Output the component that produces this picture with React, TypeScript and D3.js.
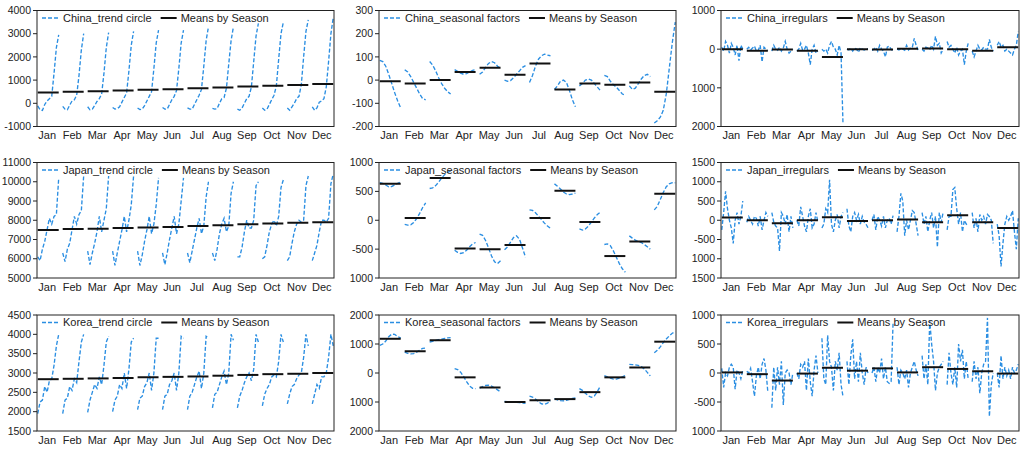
import React from "react";
import * as d3 from "d3";

const MONTHS = ["Jan", "Feb", "Mar", "Apr", "May", "Jun", "Jul", "Aug", "Sep", "Oct", "Nov", "Dec"];

// ---------- China ----------
const chinaTrend = [
  [-110, -280, -310, -50, 100, 200, 300, 1300, 2400, 2950],
  [-130, -250, -280, -80, 100, 150, 350, 1200, 2300, 3000],
  [-150, -280, -250, -100, 80, 200, 400, 1300, 2400, 3050],
  [-180, -250, -230, -150, 50, 250, 450, 1400, 2500, 3100],
  [-200, -270, -250, -100, 100, 300, 500, 1500, 2600, 3150],
  [-180, -250, -250, -50, 150, 300, 550, 1500, 2600, 3150],
  [-200, -250, -250, -50, 150, 350, 600, 1600, 2700, 3300],
  [-220, -250, -230, 0, 200, 250, 650, 1700, 2700, 3300],
  [-250, -300, -200, 0, 200, 300, 700, 1800, 2900, 3450],
  [-200, -300, -250, -50, 150, 350, 750, 1900, 3000, 3500],
  [-200, -300, -150, 0, 200, 300, 800, 2000, 3100, 3600],
  [-150, -300, -200, 50, 100, 200, 700, 1800, 3000, 3700],
];
const chinaTrendMeans = [470, 500, 520, 550, 580, 610, 650, 680, 720, 760, 790, 830];

const chinaSeasonal = [
  [85, 80, 60, 25, -15, -55, -90, -120],
  [45, 35, 15, -10, -35, -60, -80, -85],
  [80, 65, 40, 10, -15, -35, -50, -60],
  [45, 38, 30, 25, 28, 35, 42, 45],
  [25, 35, 55, 72, 80, 75, 60, 50],
  [0, -5, -2, 10, 25, 40, 55, 62],
  [-10, 20, 60, 90, 105, 112, 108, 105],
  [-40, -25, -5, 0, -10, -45, -85, -115],
  [-25, -15, 0, 5, 0, -15, -30, -45],
  [20, 15, -5, -20, -30, -45, -60, -65],
  [-25, -40, -35, -15, 5, 20, 25, 15],
  [-185, -175, -160, -130, -60, 50, 160, 250],
];
const chinaSeasonalMeans = [-5, -15, 0, 35, 53, 23, 72, -40, -15, -20, -10, -50];

const chinaIrregular = [
  [50, -50, 200, 100, -100, 150, 50, -150, 100, -300, 100, 0],
  [0, 50, -20, 30, 80, -50, -30, 100, -330, 50, 0, -40],
  [-50, 100, 0, -30, 50, -50, 30, 200, 0, -100, -50, 0],
  [-50, 0, 150, -30, 0, 100, -100, -400, 0, 100, -100, -50],
  [0, -50, 0, -100, 100, 200, 50, 0, -150, 100, -100, -1900],
  [0, -20, 30, -50, 20, 0, -80, 40, 0, -20, 0, 10],
  [-30, 0, 50, -50, 100, 0, -50, -200, 50, 80, 0, -50],
  [0, -20, 20, 0, -30, 100, -20, 30, 50, 280, 100, -20],
  [0, -50, 50, 30, -20, 100, 0, 330, 100, 150, -100, 0],
  [200, 50, 100, 0, -100, 50, -150, -50, 0, -400, -50, 150],
  [-50, -200, -50, 100, 0, -20, 50, 0, 0, 250, 50, -50],
  [100, 200, 50, 100, -50, 0, -50, -100, -150, 0, 100, 450],
];
const chinaIrregularMeans = [0, -40, -10, -40, -200, 0, -10, 10, 15, 0, -40, 50];

// ---------- Japan ----------
const japanTrend = [
  [6100, 5900, 6500, 6900, 7500, 8100, 7800, 8200, 8300, 10200],
  [6300, 5850, 6500, 6800, 7500, 8200, 7800, 8300, 8500, 10300],
  [6400, 5700, 6300, 6800, 7400, 8200, 7400, 8000, 8600, 10300],
  [6400, 5650, 6300, 6900, 7500, 8200, 7400, 8000, 8800, 10300],
  [6400, 5650, 6200, 6900, 7500, 8200, 7300, 7800, 8800, 10200],
  [6300, 5700, 6300, 7000, 7600, 8200, 7300, 7800, 9000, 10200],
  [6300, 5800, 6400, 7000, 7600, 8100, 7300, 7700, 9200, 10000],
  [6300, 5900, 6500, 7300, 7800, 8100, 7400, 7700, 9400, 10000],
  [6100, 6100, 6600, 7400, 8000, 7600, 7600, 8000, 9800, 10000],
  [6000, 6100, 6700, 7400, 7800, 8000, 7700, 8200, 9700, 10100],
  [5900, 6100, 6800, 7400, 7800, 8000, 7900, 8000, 9800, 10300],
  [5900, 6300, 6700, 7400, 8000, 8000, 7900, 8100, 9900, 10400],
];
const japanTrendMeans = [7500, 7550, 7560, 7600, 7620, 7650, 7700, 7740, 7790, 7830, 7870, 7900];

const japanSeasonal = [
  [650, 640, 610, 580, 585, 610, 640, 660],
  [-70, -85, -80, -40, 30, 120, 220, 300],
  [550, 560, 600, 660, 730, 790, 830, 850],
  [-520, -555, -575, -560, -520, -460, -410, -385],
  [-240, -260, -350, -480, -620, -720, -750, -700],
  [-510, -460, -380, -300, -270, -330, -480, -640],
  [180, 170, 130, 70, 10, -50, -100, -140],
  [630, 590, 540, 490, 455, 445, 455, 470],
  [-150, -170, -150, -100, -30, 40, 100, 140],
  [-420, -410, -440, -530, -640, -750, -840, -900],
  [-270, -310, -345, -370, -385, -420, -460, -500],
  [180, 240, 360, 480, 580, 630, 650, 650],
];
const japanSeasonalMeans = [630, 40, 730, -490, -500, -430, 40, 510, -30, -620, -370, 460];

const japanIrregular = [
  [-250, 200, 750, 300, 0, -200, -600, 0, 200, -100, 100, 500],
  [-50, 100, 0, -100, 100, 50, -150, 100, -250, 0, 200, 100],
  [200, -50, -150, -200, -800, 200, 100, -100, 150, -300, 100, -200],
  [0, -150, 350, 100, -150, -300, 100, 300, -200, -100, 200, -50],
  [-200, -100, 300, 200, 1050, -100, -300, 0, 150, -200, 100, 200],
  [300, -150, -300, 100, 200, 0, 150, -100, 100, -50, -100, -200],
  [0, 150, -250, 100, 0, -150, 100, -200, 0, 50, -100, 120],
  [-300, 100, 700, 500, -400, 0, -250, 0, 250, 200, -100, -400],
  [200, -100, 100, -300, 0, 200, -200, 100, -700, 200, -50, 200],
  [-250, 100, 100, 800, 850, 300, -100, 200, -300, 0, -100, -150],
  [200, -200, 50, -300, 150, 0, 100, -100, 150, 100, 0, -600],
  [-100, -400, -1200, -600, -100, 100, 0, 100, 250, -300, -750, 50],
];
const japanIrregularMeans = [70, 0, -80, 0, 80, -20, 0, 20, -50, 130, -50, -200];

// ---------- Korea ----------
const koreaTrend = [
  [1950, 2250, 2300, 2650, 2500, 2800, 2850, 3200, 3700, 4000],
  [1950, 2300, 2350, 2650, 2550, 2850, 2750, 3300, 3800, 4000],
  [1980, 2300, 2500, 2700, 2600, 2900, 2700, 3200, 3800, 3950],
  [2000, 2300, 2400, 2700, 2600, 3000, 2600, 3100, 3800, 3900],
  [2050, 2350, 2400, 2650, 2750, 3000, 2550, 3000, 3900, 3900],
  [2050, 2400, 2450, 2700, 2800, 3000, 2550, 3000, 3950, 3900],
  [2050, 2400, 2500, 2700, 2900, 3050, 2600, 3000, 3950, 3900],
  [2100, 2450, 2500, 2700, 2900, 3050, 2700, 3000, 4000, 3850],
  [2100, 2400, 2550, 2750, 2900, 3000, 2800, 3100, 4000, 3800],
  [2150, 2450, 2600, 2700, 2900, 2950, 2900, 3300, 4000, 3800],
  [2200, 2450, 2650, 2700, 2850, 2950, 3000, 3400, 4000, 3700],
  [2200, 2450, 2700, 2600, 2900, 2900, 3000, 3400, 4000, 3700],
];
const koreaTrendMeans = [2840, 2850, 2860, 2870, 2890, 2900, 2910, 2930, 2950, 2970, 2980, 3000];

const koreaSeasonal = [
  [950, 1000, 1100, 1250, 1340, 1330, 1260, 1200],
  [720, 680, 660, 670, 720, 790, 850, 860],
  [1070, 1090, 1120, 1150, 1170, 1190, 1210, 1220],
  [150, 120, 30, -120, -300, -450, -530, -540],
  [-520, -470, -430, -420, -450, -510, -580, -650],
  [-980, -990, -1000, -1000, -1010, -1020, -1040, -1050],
  [-800, -830, -900, -990, -1060, -1080, -1040, -960],
  [-880, -930, -950, -960, -940, -910, -880, -860],
  [-540, -600, -700, -790, -840, -790, -640, -450],
  [-90, -130, -180, -210, -210, -180, -130, -80],
  [300, 290, 280, 260, 220, 140, 20, -100],
  [700, 780, 900, 1050, 1170, 1280, 1370, 1430],
];
const koreaSeasonalMeans = [1180, 750, 1130, -150, -500, -1000, -940, -900, -660, -150, 190, 1080];

const koreaIrregular = [
  [80, -250, 0, -50, 100, 150, 100, -280, 50, 0, -100, 50],
  [30, 0, 80, -150, -400, -50, 100, -100, 150, 250, 50, -330],
  [-600, 100, -300, 100, -200, 200, -550, 0, 50, 0, -200, 0],
  [0, -100, 150, 100, 200, -300, 250, -150, -400, 50, 300, 0],
  [600, -100, -200, 650, 200, 100, -300, 200, 50, 350, -200, -400],
  [200, -200, 300, 580, -100, 200, -150, 350, 0, -200, 100, 0],
  [0, 100, -150, 100, 0, 250, -100, 100, -150, -180, -150, 850],
  [100, -200, 50, 0, -100, 50, -250, 0, 100, 200, 50, -50],
  [300, -100, 150, -200, 900, 500, 200, -300, 0, 100, 150, 200],
  [-200, 350, 0, -200, 100, -250, 500, 200, 400, -100, 200, -100],
  [-150, 200, -100, 100, -350, 0, 150, 200, 950, -750, -200, 0],
  [0, -250, 300, -100, 100, -50, 50, -100, 100, 0, 50, 150],
];
const koreaIrregularMeans = [10, -20, -130, -10, 90, 40, 80, 10, 100, 70, 30, -10];

// ---------- Axes ----------
const ticksChinaTrend = [-1000, 0, 1000, 2000, 3000, 4000];
const labelsChinaTrend = ["-1000", "0", "1000", "2000", "3000", "4000"];
const ticksChinaSeasonal = [-200, -100, 0, 100, 200, 300];
const labelsChinaSeasonal = ["-200", "-100", "0", "100", "200", "300"];
const ticksChinaIrregular = [-2000, -1000, 0, 1000];
const labelsChinaIrregular = ["2000", "1000", "0", "1000"];
const ticksJapanTrend = [5000, 6000, 7000, 8000, 9000, 10000, 11000];
const labelsJapanTrend = ["5000", "6000", "7000", "8000", "9000", "10000", "11000"];
const ticksJapanSeasonal = [-1000, -500, 0, 500, 1000];
const labelsJapanSeasonal = ["1000", "-500", "0", "500", "1000"];
const ticksJapanIrregular = [-1500, -1000, -500, 0, 500, 1000, 1500];
const labelsJapanIrregular = ["1500", "1000", "-500", "0", "500", "1000", "1500"];
const ticksKoreaTrend = [1500, 2000, 2500, 3000, 3500, 4000, 4500];
const labelsKoreaTrend = ["1500", "2000", "2500", "3000", "3500", "4000", "4500"];
const ticksKoreaSeasonal = [-2000, -1000, 0, 1000, 2000];
const labelsKoreaSeasonal = ["2000", "1000", "0", "1000", "2000"];
const ticksKoreaIrregular = [-1000, -500, 0, 500, 1000];
const labelsKoreaIrregular = ["1000", "-500", "0", "500", "1000"];

const PANELS = [
  { name: "China_trend circle", data: chinaTrend, means: chinaTrendMeans, ticks: ticksChinaTrend, labels: labelsChinaTrend, row: 0, col: 0 },
  { name: "China_seasonal factors", data: chinaSeasonal, means: chinaSeasonalMeans, ticks: ticksChinaSeasonal, labels: labelsChinaSeasonal, row: 0, col: 1 },
  { name: "China_irregulars", data: chinaIrregular, means: chinaIrregularMeans, ticks: ticksChinaIrregular, labels: labelsChinaIrregular, row: 0, col: 2 },
  { name: "Japan_trend circle", data: japanTrend, means: japanTrendMeans, ticks: ticksJapanTrend, labels: labelsJapanTrend, row: 1, col: 0 },
  { name: "Japan_seasonal factors", data: japanSeasonal, means: japanSeasonalMeans, ticks: ticksJapanSeasonal, labels: labelsJapanSeasonal, row: 1, col: 1 },
  { name: "Japan_irregulars", data: japanIrregular, means: japanIrregularMeans, ticks: ticksJapanIrregular, labels: labelsJapanIrregular, row: 1, col: 2 },
  { name: "Korea_trend circle", data: koreaTrend, means: koreaTrendMeans, ticks: ticksKoreaTrend, labels: labelsKoreaTrend, row: 2, col: 0 },
  { name: "Korea_seasonal factors", data: koreaSeasonal, means: koreaSeasonalMeans, ticks: ticksKoreaSeasonal, labels: labelsKoreaSeasonal, row: 2, col: 1 },
  { name: "Korea_irregulars", data: koreaIrregular, means: koreaIrregularMeans, ticks: ticksKoreaIrregular, labels: labelsKoreaIrregular, row: 2, col: 2 },
];

const COL_X = [[37, 334], [379, 676], [721, 1019]];
const ROW_Y = [[10.5, 126.5], [162.5, 278], [315, 431]];
const FONT = "Arial, 'Liberation Sans', sans-serif";
const BLUE = "#2a8ee2";

let ctx: CanvasRenderingContext2D | null = null;
function textWidth(s: string, size: number) {
  if (!ctx) ctx = document.createElement("canvas").getContext("2d");
  if (!ctx) return s.length * size * 0.5;
  ctx.font = `${size}px Arial, 'Liberation Sans', sans-serif`;
  return ctx.measureText(s).width;
}

function Panel({ cfg, idx }: { cfg: any; idx: number }) {
  const [x0, x1] = COL_X[cfg.col];
  const [y0, y1] = ROW_Y[cfg.row];
  const ext = d3.extent(cfg.ticks as number[]) as [number, number];
  const y = d3.scaleLinear().domain(ext).range([y1, y0]);
  const band = d3.scaleBand<string>().domain(MONTHS).range([x0, x1]).paddingInner(0.16).paddingOuter(0.03);
  const bw = band.bandwidth();
  const clipId = `clip-${idx}`;
  const legY = y0 + 7.5;
  const t1w = textWidth(cfg.name, 11);
  const lx2 = x0 + 26 + t1w + 9;
  return (
    <g>
      <defs>
        <clipPath id={clipId}>
          <rect x={x0} y={y0} width={x1 - x0} height={y1 - y0} />
        </clipPath>
      </defs>
      <g clipPath={`url(#${clipId})`}>
        {MONTHS.map((m, i) => {
          const vals: number[] = cfg.data[i];
          const xp = d3.scalePoint<number>().domain(d3.range(vals.length)).range([band(m)!, band(m)! + bw]);
          const line = d3.line<number>().x((_, j) => xp(j)!).y((v) => y(v));
          return (
            <path key={"s" + m} d={line(vals) || ""} fill="none" stroke={BLUE} strokeWidth={1.35} strokeDasharray="4,2" />
          );
        })}
        {MONTHS.map((m, i) => (
          <line key={"m" + m} x1={band(m)!} x2={band(m)! + bw} y1={y(cfg.means[i])} y2={y(cfg.means[i])} stroke="#111" strokeWidth={2} />
        ))}
      </g>
      <rect x={x0} y={y0} width={x1 - x0} height={y1 - y0} fill="none" stroke="#222" strokeWidth={1} />
      {(cfg.ticks as number[]).map((t, k) => (
        <g key={"t" + t}>
          <line x1={x0 - 4} x2={x0} y1={y(t)} y2={y(t)} stroke="#222" strokeWidth={1} />
          <text x={x0 - 6} y={y(t)} dy="0.35em" textAnchor="end" fontSize={10.5} fontFamily={FONT} fill="#222">
            {cfg.labels[k]}
          </text>
        </g>
      ))}
      {MONTHS.map((m) => (
        <text key={"x" + m} x={band(m)! + bw / 2 - 1} y={y1 + 12.5} textAnchor="middle" fontSize={11} fontFamily={FONT} fill="#222">
          {m}
        </text>
      ))}
      <line x1={x0 + 5} x2={x0 + 23} y1={legY} y2={legY} stroke={BLUE} strokeWidth={1.35} strokeDasharray="4,2" />
      <text x={x0 + 26} y={legY} dy="0.35em" fontSize={11} fontFamily={FONT} fill="#222">
        {cfg.name}
      </text>
      <line x1={lx2} x2={lx2 + 16} y1={legY} y2={legY} stroke="#111" strokeWidth={2} />
      <text x={lx2 + 20} y={legY} dy="0.35em" fontSize={11} fontFamily={FONT} fill="#222">
        Means by Season
      </text>
    </g>
  );
}

export default function App() {
  return (
    <svg width={1024} height={456} style={{ position: "absolute", left: 0, top: 0, background: "#fff" }}>
      <rect x={0} y={0} width={1024} height={456} fill="#fff" />
      {PANELS.map((p, i) => (
        <Panel key={p.name} cfg={p} idx={i} />
      ))}
    </svg>
  );
}
